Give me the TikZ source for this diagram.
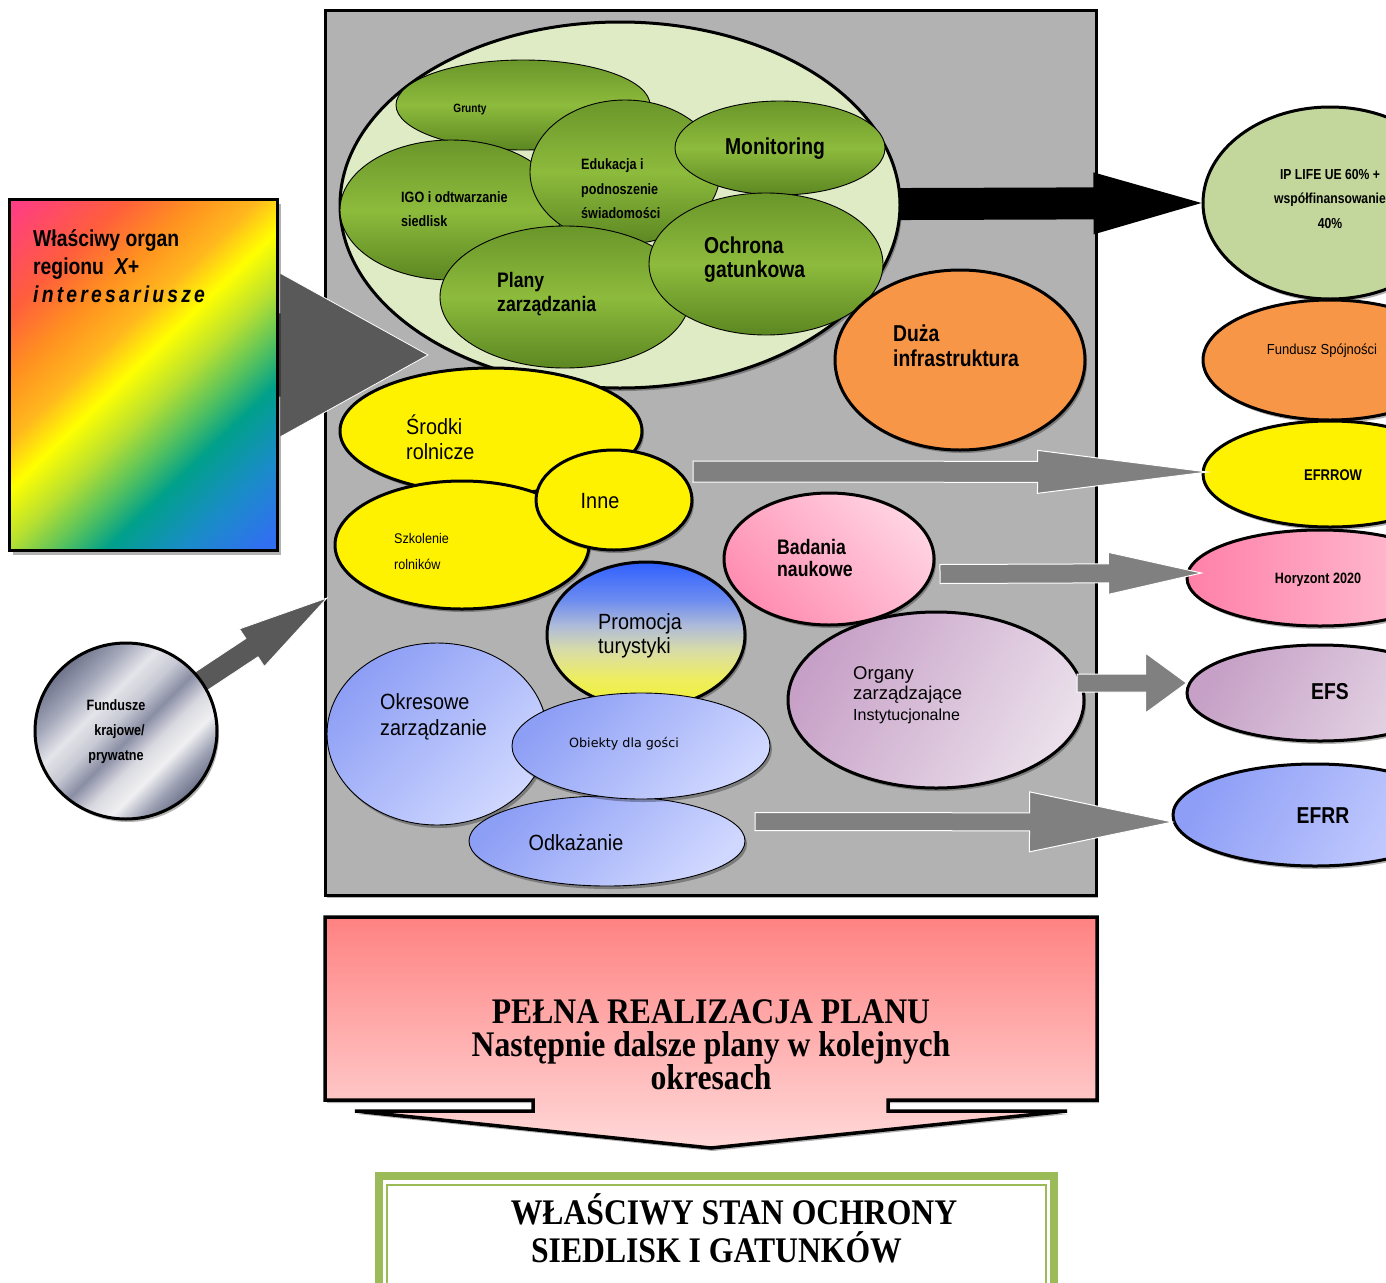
\documentclass[tikz,border=0pt]{standalone}
\usepackage{fontspec}
\setmainfont{Liberation Sans}
\newfontfamily\nsans[FakeStretch=0.84]{Liberation Sans}
\newfontfamily\rsans[FakeStretch=0.9]{Liberation Sans}
\newfontfamily\psans{Liberation Sans}
\newfontfamily\cserif[FakeStretch=0.88]{Liberation Serif}
\newfontfamily\vsans{DejaVu Sans}
\newfontfamily\spsans[FakeStretch=0.84,LetterSpace=14]{Liberation Sans}
\usetikzlibrary{shapes.geometric,calc,shadows}

\definecolor{panelgray}{HTML}{B2B2B2}
\definecolor{lightgreen}{HTML}{DFEBC4}
\definecolor{gdark}{HTML}{5C8722}
\definecolor{gmid}{HTML}{8DBB3C}
\definecolor{gtop}{HTML}{6A962A}
\definecolor{orangef}{HTML}{F79646}
\definecolor{lifegreen}{HTML}{C3D69B}
\definecolor{arrdark}{HTML}{595959}
\definecolor{arrgray}{HTML}{808080}
\definecolor{framegreen}{HTML}{9BBB59}
\definecolor{blueA}{HTML}{8D9EF5}
\definecolor{blueB}{HTML}{D0D8FF}
\definecolor{pinkA}{HTML}{FF8DB2}
\definecolor{pinkB}{HTML}{FFD3E2}
\definecolor{orgA}{HTML}{C7A0C7}
\definecolor{orgB}{HTML}{EADFEA}
\definecolor{horA}{HTML}{FF80A8}
\definecolor{horB}{HTML}{FFC6D8}
\definecolor{efsA}{HTML}{C6A0C6}
\definecolor{efsB}{HTML}{E6D8E6}
\definecolor{efrrA}{HTML}{8E9EF6}
\definecolor{efrrB}{HTML}{C8D0FF}
\definecolor{plTop}{HTML}{FF8282}
\definecolor{plBot}{HTML}{FFD8D8}
\definecolor{rbA}{HTML}{FF3399}
\definecolor{rbB}{HTML}{FF5E3C}
\definecolor{rbC}{HTML}{FF9020}
\definecolor{rbJ}{HTML}{FFB81E}
\definecolor{rbD}{HTML}{FFFF00}
\definecolor{rbE}{HTML}{B8E030}
\definecolor{rbF}{HTML}{50C060}
\definecolor{rbG}{HTML}{00A08A}
\definecolor{rbH}{HTML}{1A8CC8}
\definecolor{rbI}{HTML}{3070F0}
\definecolor{prA}{HTML}{F0F030}
\definecolor{prB}{HTML}{EEEE60}
\definecolor{prC}{HTML}{D8DCA8}
\definecolor{prD}{HTML}{B0BCD8}
\definecolor{prE}{HTML}{6C8CF0}
\definecolor{prF}{HTML}{3060FF}
\definecolor{mtA}{HTML}{6F748C}
\definecolor{mtB}{HTML}{A4A8BA}
\definecolor{mtC}{HTML}{E4E4EA}
\definecolor{mtD}{HTML}{C8CAD4}
\definecolor{mtE}{HTML}{8A8EA4}
\definecolor{mtF}{HTML}{D8D8E0}
\definecolor{mtG}{HTML}{F0F0F2}
\definecolor{mtH}{HTML}{9EA2B4}

\pgfdeclarehorizontalshading{rainbowsh}{100bp}{color(0bp)=(rbA); color(23.25bp)=(rbA); color(34.25bp)=(rbB); color(39.75bp)=(rbC); color(44.75bp)=(rbJ); color(48.75bp)=(rbD); color(53.25bp)=(rbE); color(57.75bp)=(rbF); color(61.25bp)=(rbG); color(67.25bp)=(rbH); color(73.25bp)=(rbI); color(100bp)=(rbI)}
\pgfdeclareverticalshading{greensh}{100bp}{color(0bp)=(gdark); color(25bp)=(gdark); color(50bp)=(gmid); color(75bp)=(gtop); color(100bp)=(gtop)}
\pgfdeclareverticalshading{promosh}{100bp}{color(0bp)=(prA); color(25bp)=(prA); color(35bp)=(prB); color(45bp)=(prC); color(53bp)=(prD); color(62bp)=(prE); color(75bp)=(prF); color(100bp)=(prF)}
\pgfdeclarehorizontalshading{metalsh}{100bp}{color(0bp)=(mtA); color(25bp)=(mtA); color(33bp)=(mtB); color(40bp)=(mtC); color(46bp)=(mtD); color(52bp)=(mtE); color(58bp)=(mtF); color(64bp)=(mtG); color(70bp)=(mtH); color(75bp)=(mtA); color(100bp)=(mtA)}

\pgfdeclarelayer{bg}
\pgfdeclarelayer{mid}
\pgfsetlayers{bg,mid,main}

% block arrow: style, from, to, shaft half width, head half width, head length
\newcommand\blockarrow[6]{%
  \coordinate (bab) at ($(#3)!#6!(#2)$);
  \path[#1] ($(#2)!#4!90:(#3)$) -- ($(bab)!#4!90:(#3)$) -- ($(bab)!#5!90:(#3)$) -- (#3)
    -- ($(bab)!#5!-90:(#3)$) -- ($(bab)!#4!-90:(#3)$) -- ($(#2)!#4!-90:(#3)$) -- cycle;
}

\begin{document}
\begin{tikzpicture}[x=1pt,y=-1pt,
  thickell/.style={ellipse, draw=black, line width=3pt, inner sep=0pt},
  thinell/.style={ellipse, draw=black, line width=0.9pt, inner sep=0pt},
  greenell/.style={thinell, shading=greensh},
  blueell/.style={thinell, top color=blueA, bottom color=blueB, shading angle=45},
  shadowed/.style={drop shadow={shadow xshift=2pt,shadow yshift=-3pt,opacity=0.3,fill=black}},
  txt/.style={inner sep=0pt, align=left},
  grayarr/.style={fill=arrgray, draw=white, line width=1pt},
  darkarr/.style={fill=arrdark, draw=white, line width=0.8pt},
]
\useasboundingbox (0,0) rectangle (1386,1282);
\begin{pgfonlayer}{bg}
\fill[white] (0,0) rectangle (1386,1282);
\node[draw=black, line width=3pt, fill=panelgray, minimum width=771pt, minimum height=885pt, inner sep=0pt, shadowed] (panel) at (710.5,452.5) {};
\end{pgfonlayer}

% ---------- green cluster ----------
\node[thickell, fill=lightgreen, minimum width=560pt, minimum height=366pt, shadowed] (bigell) at (620,205) {};
\node[greenell, minimum width=254pt, minimum height=90pt] (grunty) at (523,105) {};
\node[txt, font=\nsans\bfseries\fontsize{12}{14}\selectfont] (tgrunty) at (470,110) {Grunty};
\node[greenell, minimum width=222pt, minimum height=140pt] (igo) at (451,210) {};
\node[txt, anchor=west, font=\nsans\bfseries\fontsize{15}{24}\selectfont] (tigo) at (401,209) {IGO i odtwarzanie\\siedlisk};
\node[greenell, minimum width=190pt, minimum height=144pt] (eduk) at (625,172) {};
\node[txt, anchor=west, font=\nsans\bfseries\fontsize{15}{24.5}\selectfont] (tedu) at (581,189) {Edukacja i\\podnoszenie\\świadomości};
\node[greenell, minimum width=210pt, minimum height=94pt] (monit) at (780,148) {};
\node[txt, font=\nsans\bfseries\fontsize{23}{24}\selectfont] (tmon) at (775,149) {Monitoring};
\node[greenell, minimum width=250pt, minimum height=142pt] (plany) at (565,297) {};
\node[txt, anchor=west, font=\nsans\bfseries\fontsize{21}{24}\selectfont] (tplany) at (497,294) {Plany\\zarządzania};
\node[greenell, minimum width=234pt, minimum height=142pt] (ochr) at (766,264) {};
\node[txt, anchor=west, font=\nsans\bfseries\fontsize{23}{24}\selectfont] (tochr) at (704,260) {Ochrona\\gatunkowa};

\node[thickell, fill=orangef, minimum width=250pt, minimum height=180pt, shadowed] (duza) at (960,360) {};
\node[txt, anchor=west, font=\nsans\bfseries\fontsize{23}{25}\selectfont] (tduza) at (893,346) {Duża\\infrastruktura};

% ---------- yellow group ----------
\node[thickell, fill=yellow, minimum width=302pt, minimum height=126pt, shadowed] (srodki) at (491,431) {};
\node[txt, anchor=west, font=\rsans\fontsize{22}{25}\selectfont] (tsrod) at (406,437) {Środki\\rolnicze};
\node[thickell, fill=yellow, minimum width=254pt, minimum height=128pt, shadowed] (szkol) at (462,545) {};
\node[txt, anchor=west, font=\rsans\fontsize{14}{26}\selectfont] (tszk) at (394,551) {Szkolenie\\rolników};
\node[thickell, fill=yellow, minimum width=156pt, minimum height=100pt, shadowed] (inne) at (614,500) {};
\node[txt, font=\rsans\fontsize{22}{24}\selectfont] (tinne) at (600,501) {Inne};

% ---------- pink / purple ----------
\node[thickell, top color=pinkB, bottom color=pinkA, shading angle=-45, minimum width=210pt, minimum height=132pt, shadowed] (badania) at (829,559) {};
\node[txt, anchor=west, font=\nsans\bfseries\fontsize{21}{22}\selectfont] (tbad) at (777,558) {Badania\\naukowe};
\node[thickell, top color=orgA, bottom color=orgB, shading angle=60, minimum width=296pt, minimum height=176pt, shadowed] (organy) at (936,700) {};
\node[txt, anchor=west, font=\psans\fontsize{18.5}{20.5}\selectfont] (torg) at (853,695) {Organy\\zarządzające\\\fontsize{16}{20.5}\selectfont Instytucjonalne};

% ---------- tourism ----------
\node[thickell, shading=promosh, minimum width=198pt, minimum height=146pt, shadowed] (promo) at (646,635) {};
\node[txt, anchor=west, font=\rsans\fontsize{22}{24}\selectfont] (tpromo) at (598,636) {Promocja\\turystyki};
\node[blueell, minimum width=220pt, minimum height=182pt, shadowed] (okres) at (437,734) {};
\node[txt, anchor=west, font=\rsans\fontsize{22}{26}\selectfont] (tokr) at (380,717) {Okresowe\\zarządzanie};
\node[blueell, minimum width=276pt, minimum height=90pt, shadowed] (odkaz) at (607,841) {};
\node[txt, font=\rsans\fontsize{22}{24}\selectfont] (todk) at (576,843) {Odkażanie};
\node[blueell, minimum width=258pt, minimum height=106pt, shadowed] (obiekty) at (641,746) {};
\node[txt, font=\vsans\fontsize{12.7}{14}\selectfont] (tobj) at (624,744) {Obiekty dla gości};

% ---------- right column ----------
\node[thickell, fill=lifegreen, minimum width=254pt, minimum height=192pt, shadowed] (life) at (1330,203) {};
\node[txt, align=center, font=\nsans\bfseries\fontsize{14.5}{24.5}\selectfont] (tlife) at (1330,199) {IP LIFE UE 60\% +\\współfinansowanie\\40\%};
\node[thickell, fill=orangef, minimum width=254pt, minimum height=120pt, shadowed] (fspoj) at (1330,360) {};
\node[txt, font=\rsans\fontsize{14.5}{16}\selectfont] (tfsp) at (1322,351) {Fundusz Spójności};
\node[thickell, fill=yellow, minimum width=254pt, minimum height=106pt, shadowed] (efrrow) at (1330,474) {};
\node[txt, font=\nsans\bfseries\fontsize{15.5}{16}\selectfont] (tefrrow) at (1333,475) {EFRROW};
\node[thickell, left color=horA, right color=horB, minimum width=266pt, minimum height=96pt, shadowed] (horyz) at (1320,578) {};
\node[txt, font=\nsans\bfseries\fontsize{15}{16}\selectfont] (thor) at (1318,580) {Horyzont 2020};
\node[thickell, top color=efsA, bottom color=efsB, shading angle=60, minimum width=266pt, minimum height=96pt, shadowed] (efs) at (1320,693) {};
\node[txt, font=\nsans\bfseries\fontsize{23}{24}\selectfont] (tefs) at (1330,692) {EFS};
\node[thickell, top color=efrrA, bottom color=efrrB, shading angle=60, minimum width=284pt, minimum height=102pt, shadowed] (efrr) at (1315,815) {};
\node[txt, font=\nsans\bfseries\fontsize{23}{24}\selectfont] (tefrr) at (1323,816) {EFRR};

% ---------- left side ----------
\fill[black, opacity=0.3] (13,204) rectangle (281,555);
\node[minimum width=267pt, minimum height=350pt, inner sep=0pt] (rainbow) at (143.5,375) {};
\begin{scope}
  \clip (rainbow.south west) rectangle (rainbow.north east);
  \begin{scope}[transform canvas={shift={(143.5,375)},rotate=-46}]
    \shade[shading=rainbowsh] (-220,-300) rectangle (220,300);
  \end{scope}
\end{scope}
\draw[line width=3pt] (rainbow.south west) rectangle (rainbow.north east);
\node[txt, anchor=west, font=\nsans\bfseries\fontsize{23}{28}\selectfont] (torgan) at (33,266) {Właściwy organ\\regionu \ \textit{X+}\\{\spsans\bfseries\itshape interesariusze}};

\node[thickell, shading=metalsh, shading angle=-45, minimum width=182pt, minimum height=176pt, shadowed] (fund) at (126,731) {};
\node[txt, align=center, font=\nsans\bfseries\fontsize{15}{25}\selectfont] (tfund) at (116,732) {Fundusze\\\ \ krajowe/\\prywatne};

% ---------- arrows under shapes ----------
\coordinate (rbs) at (150,355);
\coordinate (rbtip) at (428,355);
\coordinate (fundtip) at (327,598);
\begin{pgfonlayer}{mid}
  \blockarrow{fill=black}{bigell.center}{life.west}{16pt}{31pt}{108pt}
  \blockarrow{darkarr}{rbs}{rbtip}{42pt}{82pt}{148pt}
  \blockarrow{darkarr}{fund.center}{fundtip}{11pt}{22.5pt}{90pt}
\end{pgfonlayer}

% ---------- grey arrows on top ----------
\coordinate (s1) at (693,471.5);
\coordinate (t1) at ($(efrrow.west)+(6,-2)$);
\blockarrow{grayarr}{s1}{t1}{10.5pt}{21.5pt}{170pt}
\coordinate (s2) at (940,574);
\coordinate (t2) at ($(horyz.west)+(16,-5)$);
\blockarrow{grayarr}{s2}{t2}{9.5pt}{21pt}{93pt}
\coordinate (s3) at (1077,683);
\coordinate (t3) at ($(efs.west)+(1,-10)$);
\blockarrow{grayarr}{s3}{t3}{9pt}{30pt}{41pt}
\coordinate (s4) at (755,821.5);
\coordinate (t4) at ($(efrr.west)+(1,7)$);
\blockarrow{grayarr}{s4}{t4}{9pt}{30pt}{143pt}

% ---------- bottom ----------
\path[draw=black, line width=3.5pt, line join=miter, top color=plTop, bottom color=plBot, shadowed]
  (325,917) -- (1097,917) -- (1097,1100) -- (888,1100) -- (888,1111) -- (1067,1111) -- (711,1148)
  -- (355,1111) -- (533,1111) -- (533,1100) -- (325,1100) -- cycle;
\node[inner sep=0pt, align=center, font=\cserif\bfseries\fontsize{36}{33}\selectfont] (plan) at (711,1045) {PEŁNA REALIZACJA PLANU\\Następnie dalsze plany w kolejnych\\okresach};

\draw[framegreen, line width=8pt, fill=white] (379,1176) rectangle (1054,1300);
\draw[framegreen, line width=1.5pt] (387,1185) rectangle (1046,1300);
\node[inner sep=0pt, anchor=base, font=\cserif\bfseries\fontsize{36}{38}\selectfont] (stan1) at (734,1224) {WŁAŚCIWY STAN OCHRONY};
\node[inner sep=0pt, anchor=base, font=\cserif\bfseries\fontsize{36}{38}\selectfont] (stan2) at (716.5,1262) {SIEDLISK I GATUNKÓW};
\end{tikzpicture}
\end{document}
